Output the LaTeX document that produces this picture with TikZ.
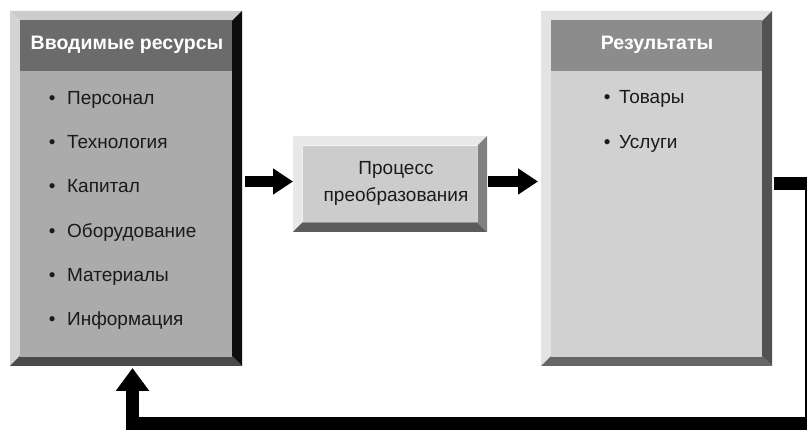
\documentclass[tikz,border=0pt]{standalone}
\usepackage{fontspec}
\setmainfont{Liberation Sans}
\usetikzlibrary{arrows.meta}
\definecolor{txt}{HTML}{1A1A1A}
\newcommand{\bevelbox}[9]{%
  % #1 x1, #2 y1, #3 x2, #4 y2, #5 bevel, #6 top, #7 left, #8 right, #9 bottom
  \fill[#6] (#1,#2) -- (#3,#2) -- (#3-#5,#2+#5) -- (#1+#5,#2+#5) -- cycle;
  \fill[#7] (#1,#2) -- (#1+#5,#2+#5) -- (#1+#5,#4-#5) -- (#1,#4) -- cycle;
  \fill[#9] (#1,#4) -- (#3,#4) -- (#3-#5,#4-#5) -- (#1+#5,#4-#5) -- cycle;
  \fill[#8] (#3,#2) -- (#3,#4) -- (#3-#5,#4-#5) -- (#3-#5,#2+#5) -- cycle;
}
\tikzset{
  item/.style={anchor=base west, inner sep=0pt, font=\fontsize{19}{22}\selectfont, text=txt},
  head/.style={anchor=base, inner sep=0pt, font=\fontsize{19.5}{22}\selectfont\bfseries, text=white},
  fatarrow/.style={line width=11pt, -{Triangle[length=20pt,width=25pt]}},
  feedback/.style={line width=13pt, line join=miter, -{Triangle[length=23pt,width=32pt]}},
}
\begin{document}
\begin{tikzpicture}[x=1pt,y=-1pt]
\clip (0,0) rectangle (807,430);
\fill[white] (0,0) rectangle (807,430);
% left box
\bevelbox{10}{11}{242}{366}{10}{{black!20}}{{black!17}}{{black!95}}{{black!71}}
\node[fill=black!33, minimum width=212pt, minimum height=337pt, inner sep=0pt, anchor=north west] (in) at (20,20) {};
\fill[black!58] (20,20) rectangle (232,71);
\node[head] (inh) at (127,50) {Вводимые ресурсы};
\node[item] (i1) at (48.7,104.3) {•\hspace{11.6pt}Персонал};
\node[item] (i2) at (48.7,148.6) {•\hspace{11.6pt}Технология};
\node[item] (i3) at (48.7,193) {•\hspace{11.6pt}Капитал};
\node[item] (i4) at (48.7,237.3) {•\hspace{11.6pt}Оборудование};
\node[item] (i5) at (48.7,281.6) {•\hspace{11.6pt}Материалы};
\node[item] (i6) at (48.7,326) {•\hspace{11.6pt}Информация};
% middle box
\bevelbox{293}{136}{487}{232}{9.5}{{black!9}}{{black!9}}{{black!50}}{{black!64}}
\node[fill=black!20, minimum width=174pt, minimum height=76pt, inner sep=0pt, anchor=north west] (proc) at (302.5,145.5) {};
\node[item, anchor=base] (p1) at (396,175) {Процесс};
\node[item, anchor=base] (p2) at (396,201.7) {преобразования};
% right box
\bevelbox{541}{11}{772}{366}{10}{{black!11}}{{black!11}}{{black!68}}{{black!60}}
\node[fill=black!18, minimum width=211pt, minimum height=337pt, inner sep=0pt, anchor=north west] (out) at (551,20) {};
\fill[black!45] (551,20) rectangle (762,71);
\node[head] (outh) at (657,50) {Результаты};
\node[item] (o1) at (603.7,104) {•\hspace{8.6pt}Товары};
\node[item] (o2) at (603.7,149) {•\hspace{8.6pt}Услуги};
% arrows
\coordinate (a1s) at (245,181.5);
\coordinate (a1e) at (293,181.5);
\coordinate (a2s) at (488,181.5);
\coordinate (a2e) at (538,181.5);
\draw[fatarrow] (a1s) -- (a1e);
\draw[fatarrow] (a2s) -- (a2e);
\coordinate (fbs) at (774,183.5);
\coordinate (fbe) at (132.5,368);
\draw[feedback] (fbs) -- (811.5,183.5) -- (811.5,423.5) -- (fbe |- 0,423.5) -- (fbe);
\end{tikzpicture}
\end{document}
